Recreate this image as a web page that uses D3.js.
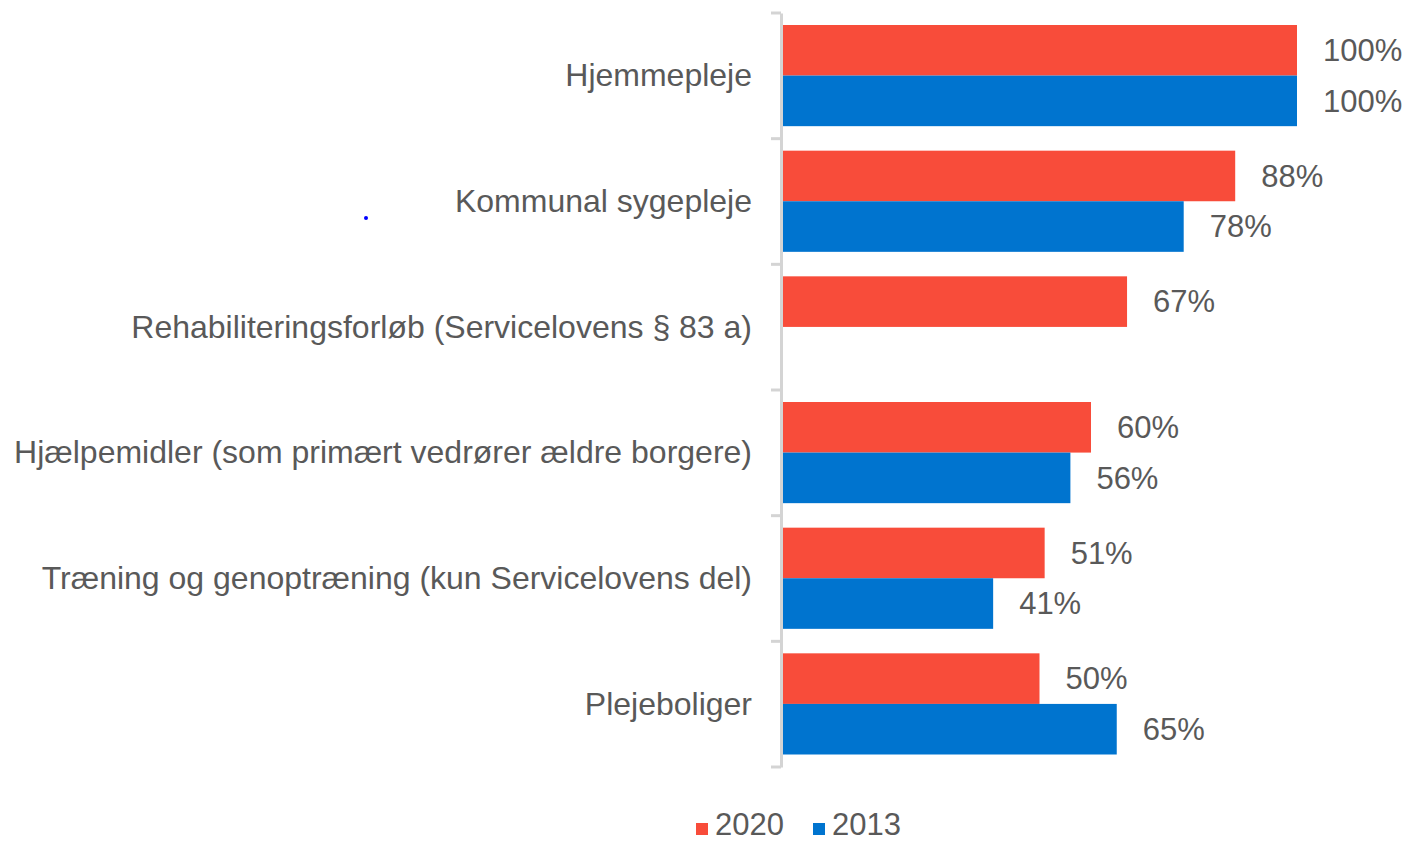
<!DOCTYPE html>
<html>
<head>
<meta charset="utf-8">
<script src="https://cdn.jsdelivr.net/npm/d3@7"></script>
<style>
  html, body { margin: 0; padding: 0; background: #fff; }
  svg { display: block; }
  text { font-family: "Liberation Sans", Arial, sans-serif; fill: #595959; }
</style>
</head>
<body>
<svg id="chart" width="1407" height="842"></svg>
<script>
const categories = [
  "Hjemmepleje",
  "Kommunal sygepleje",
  "Rehabiliteringsforløb (Servicelovens § 83 a)",
  "Hjælpemidler (som primært vedrører ældre borgere)",
  "Træning og genoptræning (kun Servicelovens del)",
  "Plejeboliger"
];
const seriesNames = ["2020", "2013"];
const values2020 = [1.00, 0.88, 0.67, 0.60, 0.51, 0.50];
const values2013 = [1.00, 0.78, null, 0.56, 0.41, 0.65];
const colors = ["#F84C3A", "#0074CF"];

const svg = d3.select("#chart");

const x = d3.scaleLinear().domain([0, 1]).range([782, 1297]);
const y = d3.scaleBand().domain(categories).range([13, 767]).padding(0);
const inner = d3.scaleBand().domain(seriesNames).range([12, y.bandwidth() - 12.5]).padding(0);
const color = d3.scaleOrdinal().domain(seriesNames).range(colors);

const rows = categories.map((c, i) => ({
  cat: c,
  vals: [
    { s: "2020", v: values2020[i] },
    { s: "2013", v: values2013[i] }
  ]
}));

// bars
const g = svg.append("g");
const groups = g.selectAll("g.cat").data(rows).join("g")
  .attr("transform", d => `translate(0,${y(d.cat)})`);

groups.selectAll("rect").data(d => d.vals.filter(v => v.v != null)).join("rect")
  .attr("x", x(0))
  .attr("y", d => inner(d.s))
  .attr("width", d => x(d.v) - x(0))
  .attr("height", inner.bandwidth())
  .attr("fill", d => color(d.s));

groups.selectAll("text.val").data(d => d.vals.filter(v => v.v != null)).join("text")
  .attr("class", "val")
  .attr("x", d => x(d.v) + 26)
  .attr("y", d => inner(d.s) + inner.bandwidth() / 2)
  .attr("dy", "0.35em")
  .style("font-size", "31px")
  .text(d => d3.format(".0%")(d.v));

// axis
const axis = d3.axisLeft(y).tickSize(0).tickPadding(0).tickFormat("");
const ax = svg.append("g").attr("transform", `translate(${x(0) - 1},0)`).call(axis);
ax.select(".domain").attr("stroke", "#d4d4d4").attr("stroke-width", 3);
ax.selectAll(".tick").remove();
// tick marks at category boundaries
const bounds = categories.map(c => y(c)).concat([y.range()[1]]);
svg.append("g").selectAll("line").data(bounds).join("line")
  .attr("x1", x(0) - 11).attr("x2", x(0) - 1)
  .attr("y1", d => d).attr("y2", d => d)
  .attr("stroke", "#d4d4d4").attr("stroke-width", 3);

// category labels
svg.append("g").selectAll("text").data(categories).join("text")
  .attr("x", 752)
  .attr("y", d => y(d) + y.bandwidth() / 2)
  .attr("text-anchor", "end")
  .attr("dy", "0.33em")
  .style("font-size", "32px")
  .text(d => d);

// legend
const legendX = [696, 813];
const lg = svg.append("g").selectAll("g").data(seriesNames).join("g")
  .attr("transform", (d, i) => `translate(${legendX[i]},829)`);
lg.append("rect").attr("x", 0).attr("y", -6).attr("width", 12).attr("height", 12)
  .attr("fill", d => color(d));
lg.append("text")
  .attr("x", 19)
  .attr("y", 6)
  .style("font-size", "31px")
  .text(d => d);

// stray dot present in reference
svg.append("circle").attr("cx", 366).attr("cy", 218).attr("r", 2).attr("fill", "#0000ff");
</script>
</body>
</html>
